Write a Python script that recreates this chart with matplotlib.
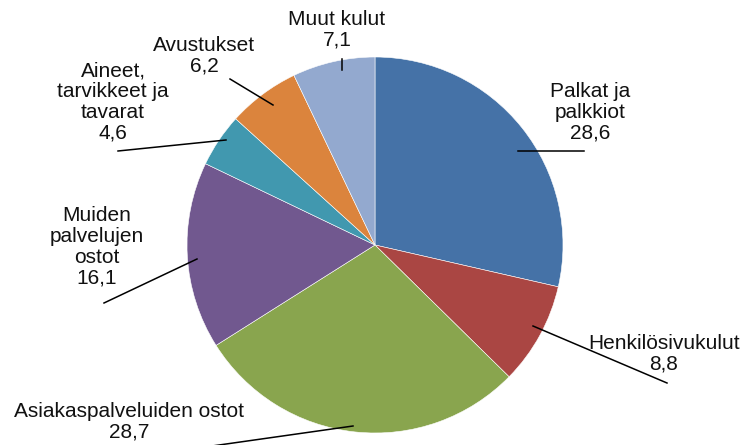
import matplotlib.pyplot as plt

labels = ["Palkat ja\npalkkiot", "Henkilösivukulut", "Asiakaspalveluiden ostot",
          "Muiden\npalvelujen\nostot", "Aineet,\ntarvikkeet ja\ntavarat",
          "Avustukset", "Muut kulut"]
values = [28.6, 8.8, 28.7, 16.1, 4.6, 6.2, 7.1]
colors = ["#4572A7", "#AA4643", "#89A54E", "#71588F", "#4198AF", "#DB843D", "#93A9CF"]

# label text centre and leader line (pixel coords, y from top)
label_pos = [(590, 112), (664, 354), (129, 422), (97, 247), (113, 102), (204, 56), (337, 30)]
leaders = [((518, 151), (584, 151)), ((533, 326), (667, 383)), ((353, 426), (205, 447)),
           ((197, 259), (104, 303)), ((226, 140), (118, 151)), ((230, 79), (273, 105)),
           ((342, 59), (342, 70))]

W, H = 743, 445
my_dpi = 100
fig = plt.figure(figsize=(W / my_dpi, H / my_dpi), dpi=my_dpi)
ax = fig.add_axes([0, 0, 1, 1])
ax.set_xlim(0, W)
ax.set_ylim(0, H)
ax.set_aspect("equal")
ax.axis("off")

ax.pie(values, colors=colors, startangle=90, counterclock=False,
       center=(375, H - 245), radius=188, frame=True,
       wedgeprops=dict(edgecolor="white", linewidth=0.4))
ax.set_xlim(0, W)
ax.set_ylim(0, H)
ax.axis("off")

for (a, b) in leaders:
    ax.plot([a[0], b[0]], [H - a[1], H - b[1]], color="black", lw=1.1, zorder=4,
            clip_on=False)

for lab, v, (x, y) in zip(labels, values, label_pos):
    txt = lab + "\n" + f"{v:.1f}".replace(".", ",")
    ax.text(x, H - y, txt, ha="center", va="center", fontsize=15,
            family="Liberation Sans", linespacing=1.12, color="#111111", zorder=5)

fig.savefig("out.png", dpi=my_dpi)
